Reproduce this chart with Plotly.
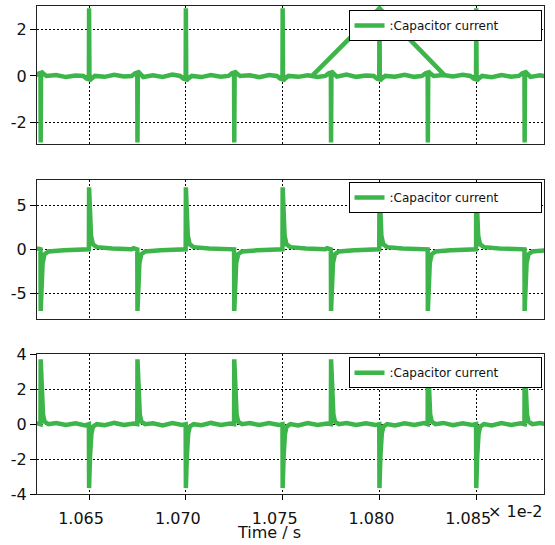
import plotly.graph_objects as go

# ---------------- data (time in units of 1e-2 s, current in A) ----------------
x_range = [1.06231, 1.08850]
x_ticks = [1.065, 1.070, 1.075, 1.080, 1.085]
x_tick_labels = ["1.065", "1.070", "1.075", "1.080", "1.085"]

# switching instants
rise_times = [1.065, 1.070, 1.075, 1.080, 1.085]
fall_times = [1.0625, 1.0675, 1.0725, 1.0775, 1.0825, 1.0875]

# baseline ripple samples
ripple_start = 1.0623
ripple_step = 0.0005

# panel 1
p1_peak_rise = 2.93
p1_peak_fall = -2.88
p1_offsets = [-0.0003, -0.00012, -0.00001, 0.0, 0.00002, 0.00012, 0.0003]
p1_fracs = [0.0, -0.04, -0.05, 1.0, -0.07, -0.04, 0.0]
p1_ripple = [0.05, -0.03, 0.04, -0.05, 0.02, -0.06, 0.03, -0.04, 0.05, -0.02,
             0.04, -0.05, 0.03, -0.04, 0.06, -0.03, 0.02, -0.05, 0.04, -0.03,
             0.05, -0.04, 0.03, -0.06, 0.04, -0.02, 0.05, -0.04, 0.03, -0.05,
             0.04, -0.03, 0.06, -0.04, 0.02, -0.05, 0.04, -0.03, 0.05, -0.04,
             0.03, -0.05, 0.04, -0.02, 0.05, -0.04, 0.03, -0.06, 0.04, -0.03,
             0.05, -0.04, 0.03, -0.05]
p1_extra_t = [1.07652, 1.0800, 1.0834]
p1_extra_v = [0.0, 2.93, 0.0]
p1_y_range = [-2.95, 3.03]
p1_y_ticks = [-2, 0, 2]
p1_y_labels = ["-2", "0", "2"]

# panel 2
p2_peak_rise = 7.05
p2_peak_fall = -7.0
p2_offsets = [-0.00001, 0.0, 0.00004, 0.0001, 0.0002, 0.0004, 0.0012, 0.0022]
p2_fracs = [0.0, 1.0, 0.55, 0.22, 0.08, 0.035, 0.015, 0.0]
p2_ripple = [0.10, -0.12, 0.08, -0.10, 0.12, -0.08, 0.10, -0.14, 0.09, -0.10,
             0.12, -0.09, 0.08, -0.12, 0.10, -0.10, 0.13, -0.08, 0.09, -0.12,
             0.10, -0.09, 0.12, -0.11, 0.08, -0.10, 0.11, -0.13, 0.09, -0.10,
             0.12, -0.08, 0.10, -0.12, 0.09, -0.10, 0.13, -0.09, 0.08, -0.11,
             0.10, -0.12, 0.09, -0.10, 0.12, -0.08, 0.10, -0.13, 0.09, -0.10,
             0.11, -0.09, 0.10, -0.12]
p2_y_range = [-7.95, 7.88]
p2_y_ticks = [-5, 0, 5]
p2_y_labels = ["-5", "0", "5"]

# panel 3
p3_peak_rise = -3.66
p3_peak_fall = 3.71
p3_offsets = [-0.00001, 0.0, 0.00005, 0.00012, 0.0002, 0.0004]
p3_fracs = [0.0, 1.0, 0.5, 0.15, 0.04, 0.0]
p3_ripple = [0.06, -0.05, 0.07, -0.04, 0.05, -0.07, 0.04, -0.06, 0.07, -0.05,
             0.04, -0.06, 0.05, -0.07, 0.06, -0.04, 0.05, -0.06, 0.07, -0.05,
             0.04, -0.06, 0.06, -0.05, 0.07, -0.04, 0.05, -0.07, 0.06, -0.05,
             0.04, -0.06, 0.07, -0.05, 0.05, -0.04, 0.06, -0.07, 0.05, -0.05,
             0.06, -0.04, 0.07, -0.06, 0.05, -0.05, 0.04, -0.07, 0.06, -0.05,
             0.05, -0.06, 0.07, -0.04]
p3_y_range = [-4.0, 4.0]
p3_y_ticks = [-4, -2, 0, 2, 4]
p3_y_labels = ["-4", "-2", "0", "2", "4"]

legend_text = ":Capacitor current"
x_title = "Time / s"
x_multiplier = "× 1e-2"


def build(peak_rise, peak_fall, offsets, fracs, ripple):
    events = [(t, peak_rise) for t in rise_times] + [(t, peak_fall) for t in fall_times]
    pts = []
    for i, v in enumerate(ripple):
        t = ripple_start + i * ripple_step
        if any(t0 + offsets[0] <= t <= t0 + offsets[-1] for t0, _ in events):
            continue
        pts.append((t, v))
    for t0, pk in events:
        for o, f in zip(offsets, fracs):
            pts.append((t0 + o, pk * f))
    pts.sort()
    return [p[0] for p in pts], [p[1] for p in pts]


GREEN = "#3db54a"
FONT = "DejaVu Sans"

t1, v1 = build(p1_peak_rise, p1_peak_fall, p1_offsets, p1_fracs, p1_ripple)
t1 = t1 + [None] + p1_extra_t
v1 = v1 + [None] + p1_extra_v
t2, v2 = build(p2_peak_rise, p2_peak_fall, p2_offsets, p2_fracs, p2_ripple)
t3, v3 = build(p3_peak_rise, p3_peak_fall, p3_offsets, p3_fracs, p3_ripple)

fig = go.Figure()
for i, (tt, vv) in enumerate([(t1, v1), (t2, v2), (t3, v3)]):
    suf = "" if i == 0 else str(i + 1)
    fig.add_trace(go.Scatter(
        x=tt, y=vv, mode="lines", name=legend_text,
        line=dict(color=GREEN, width=4.5),
        xaxis="x" + suf, yaxis="y" + suf,
        legend="legend" + suf, showlegend=True,
    ))

# geometry (pixels) -> paper
W, H = 555, 545
ML, MR, MT, MB = 37, 11, 6, 51
PH = H - MT - MB
def py(ypix):
    return (H - MB - ypix) / PH
def px(xpix):
    return (xpix - ML) / (W - ML - MR)

y_domains = [[py(144), 1.0], [py(319.3), py(180)], [0.0, py(354.3)]]
y_ranges = [p1_y_range, p2_y_range, p3_y_range]
y_tick_sets = [(p1_y_ticks, p1_y_labels), (p2_y_ticks, p2_y_labels), (p3_y_ticks, p3_y_labels)]
legend_tops = [10, 182, 357.3]

axis_common = dict(
    showline=True, linecolor="#222", linewidth=1, mirror=True,
    showgrid=True, gridcolor="black", gridwidth=1, griddash="2px,2px",
    zeroline=False, automargin=False,
    tickfont=dict(family=FONT, size=16, color="#111"),
)

layout = dict(
    width=W, height=H,
    margin=dict(l=ML, r=MR, t=MT, b=MB, autoexpand=False),
    paper_bgcolor="white", plot_bgcolor="white",
    font=dict(family=FONT, size=16, color="#111"),
)
for i in range(3):
    suf = "" if i == 0 else str(i + 1)
    xa = dict(axis_common)
    xa.update(domain=[0, 1], range=x_range, tickvals=x_ticks, ticktext=x_tick_labels,
              anchor="y" + suf)
    if i < 2:
        xa.update(showticklabels=False, ticks="")
    else:
        xa.update(ticks="outside", ticklen=5, tickcolor="black", ticklabelshift=-8,
                  ticklabelstandoff=5)
    ya = dict(axis_common)
    ya.update(domain=y_domains[i], range=y_ranges[i], tickvals=y_tick_sets[i][0],
              ticktext=y_tick_sets[i][1], ticks="outside", ticklen=6, tickcolor="black",
              anchor="x" + suf)
    layout["xaxis" + suf] = xa
    layout["yaxis" + suf] = ya
    layout["legend" + suf] = dict(
        x=px(541.5), xanchor="right", y=py(legend_tops[i]), yanchor="top",
        orientation="h",
        bgcolor="white", bordercolor="black", borderwidth=1,
        font=dict(family=FONT, size=12, color="#111"),
        entrywidth=146, entrywidthmode="pixels",
    )

layout["annotations"] = [
    dict(text=x_title, x=px(268.5), y=py(532), xref="paper", yref="paper",
         xanchor="center", yanchor="middle", showarrow=False,
         font=dict(family=FONT, size=16, color="#111")),
    dict(text=x_multiplier, x=px(486), y=py(511), xref="paper", yref="paper",
         xanchor="left", yanchor="middle", showarrow=False,
         font=dict(family=FONT, size=16, color="#111")),
]

fig.update_layout(**layout)
fig.write_html("out.html")
